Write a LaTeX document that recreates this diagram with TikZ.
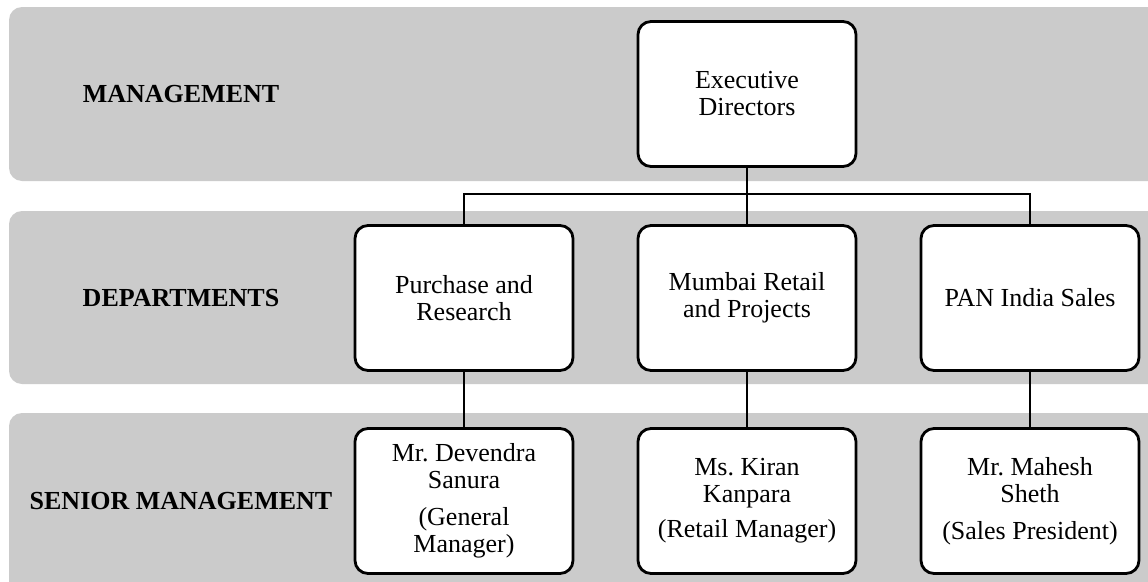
\documentclass[tikz,border=0pt]{standalone}
\usepackage{fontspec}
\setmainfont{Liberation Serif}
\usetikzlibrary{positioning}
\frenchspacing

\definecolor{bandgray}{RGB}{203,203,203}

\begin{document}
\begin{tikzpicture}[x=1pt,y=-1pt,node distance=204pt and 283pt,on grid,
	band/.style={fill=bandgray,rounded corners=13pt},
	unit/.style={draw,fill=white,line width=2.8pt,rounded corners=13pt,
		minimum width=218pt,minimum height=145pt,align=center,
		font=\fontsize{26pt}{27pt}\selectfont},
	tier/.style={font=\fontsize{26pt}{27pt}\selectfont\bfseries},
	link/.style={line width=1.8pt}]
	\useasboundingbox (0,0) rectangle (1148,581);
	\begin{scope}
		\clip (0,0) rectangle (1148,581);
		\fill[band] (9,7) rectangle (1180,181);
		\fill[band] (9,211) rectangle (1180,384);
		\fill[band] (9,413) rectangle (1180,620);
	\end{scope}

	\node[tier] (mgmt) at (181,94) {MANAGEMENT};
	\node[tier] (dept) at (181,298) {DEPARTMENTS};
	\node[tier] (senior) at (181,501) {SENIOR MANAGEMENT};

	\node[unit] (exec) at (747,94) {Executive\\Directors};
	\node[unit] (mumbai) [below=of exec] {Mumbai Retail\\and Projects};
	\node[unit] (purchase) [left=of mumbai] {Purchase and\\Research};
	\node[unit] (pan) [right=of mumbai] {PAN India Sales};

	\node[unit] (kiran) [below=203pt of mumbai] {Ms. Kiran\\Kanpara\\[8pt](Retail Manager)};
	\node[unit] (devendra) [left=of kiran] {Mr. Devendra\\Sanura\\[10pt](General\\Manager)};
	\node[unit] (mahesh) [right=of kiran] {Mr. Mahesh\\Sheth\\[10pt](Sales President)};

	\path (exec.south) -- (mumbai.north) coordinate[pos=0.47] (split);
	\draw[link] (exec) -- (mumbai);
	\draw[link] (purchase.north) |- (split) -| (pan.north);
	\draw[link] (purchase) -- (devendra);
	\draw[link] (mumbai) -- (kiran);
	\draw[link] (pan) -- (mahesh);
\end{tikzpicture}
\end{document}
